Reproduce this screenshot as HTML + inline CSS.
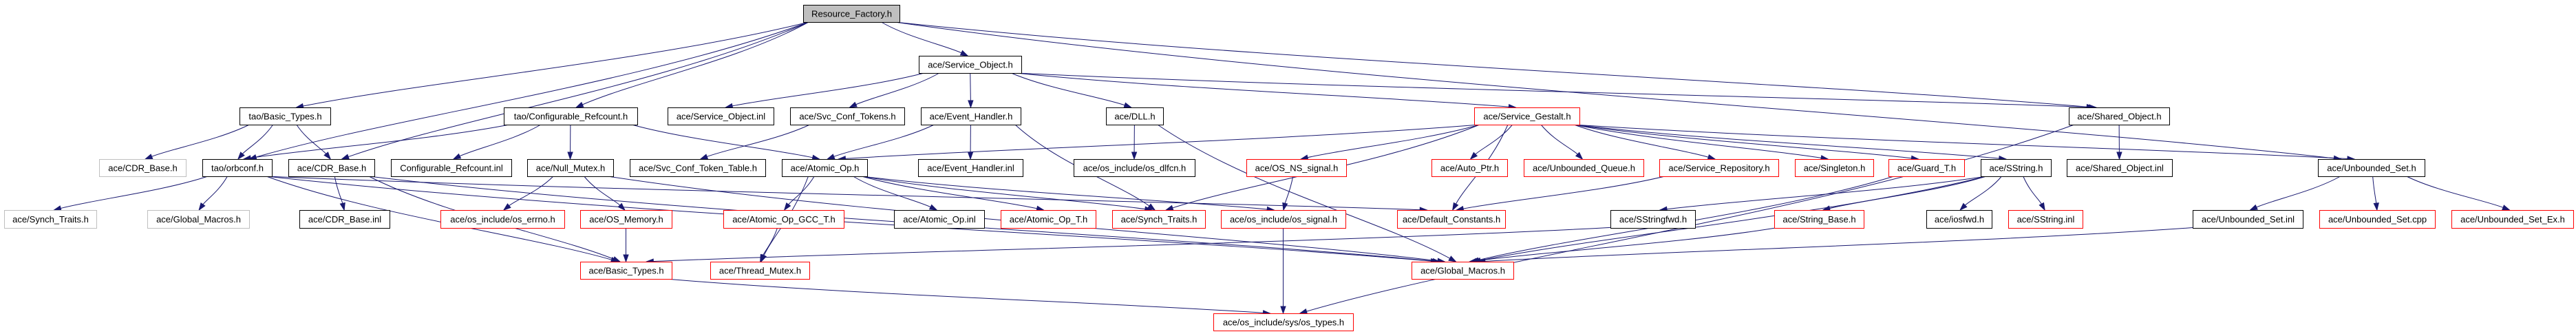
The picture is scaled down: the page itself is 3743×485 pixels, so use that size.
<!DOCTYPE html>
<html><head><meta charset="utf-8">
<style>
html,body{margin:0;padding:0;background:#fff;}
svg{display:block;}
text{font-family:"Liberation Sans",sans-serif;font-size:13px;fill:#000;}
</style></head>
<body>
<svg id="g" xmlns="http://www.w3.org/2000/svg" width="3743" height="485" viewBox="0 0 3743 485">
<rect x="0" y="0" width="3743" height="485" fill="#fff"/>
<g id="edges" fill="none" stroke="#191970" stroke-width="1"></g>
<g id="heads" fill="#191970" stroke="#191970" stroke-width="1"></g>
<g id="nodes" stroke-width="1">
<rect x="1167.5" y="7.5" width="140" height="25" fill="#bfbfbf" stroke="#000"/><text x="1237.5" y="24.5" text-anchor="middle" textLength="117" lengthAdjust="spacingAndGlyphs">Resource_Factory.h</text>
<rect x="1335.5" y="81.5" width="149" height="25" fill="#fff" stroke="#000"/><text x="1410" y="98.5" text-anchor="middle">ace/Service_Object.h</text>
<rect x="348.5" y="156.5" width="132" height="25" fill="#fff" stroke="#000"/><text x="414.5" y="173.5" text-anchor="middle">tao/Basic_Types.h</text>
<rect x="732.5" y="156.5" width="194" height="25" fill="#fff" stroke="#000"/><text x="829.5" y="173.5" text-anchor="middle">tao/Configurable_Refcount.h</text>
<rect x="970.5" y="156.5" width="154" height="25" fill="#fff" stroke="#000"/><text x="1047.5" y="173.5" text-anchor="middle">ace/Service_Object.inl</text>
<rect x="1148.5" y="156.5" width="166" height="25" fill="#fff" stroke="#000"/><text x="1231.5" y="173.5" text-anchor="middle">ace/Svc_Conf_Tokens.h</text>
<rect x="1338.5" y="156.5" width="145" height="25" fill="#fff" stroke="#000"/><text x="1411" y="173.5" text-anchor="middle">ace/Event_Handler.h</text>
<rect x="1607.5" y="156.5" width="83" height="25" fill="#fff" stroke="#000"/><text x="1649" y="173.5" text-anchor="middle">ace/DLL.h</text>
<rect x="2142.5" y="156.5" width="153" height="25" fill="#fff" stroke="#f00"/><text x="2219" y="173.5" text-anchor="middle">ace/Service_Gestalt.h</text>
<rect x="3006.5" y="156.5" width="146" height="25" fill="#fff" stroke="#000"/><text x="3079.5" y="173.5" text-anchor="middle">ace/Shared_Object.h</text>
<rect x="144.5" y="231.5" width="126" height="25" fill="#fff" stroke="#bfbfbf"/><text x="207.5" y="248.5" text-anchor="middle">ace/CDR_Base.h</text>
<rect x="294.5" y="231.5" width="101" height="25" fill="#fff" stroke="#000"/><text x="345" y="248.5" text-anchor="middle">tao/orbconf.h</text>
<rect x="419.5" y="231.5" width="125" height="25" fill="#fff" stroke="#000"/><text x="482" y="248.5" text-anchor="middle">ace/CDR_Base.h</text>
<rect x="568.5" y="231.5" width="175" height="25" fill="#fff" stroke="#000"/><text x="656" y="248.5" text-anchor="middle">Configurable_Refcount.inl</text>
<rect x="766.5" y="231.5" width="125" height="25" fill="#fff" stroke="#000"/><text x="829" y="248.5" text-anchor="middle">ace/Null_Mutex.h</text>
<rect x="915.5" y="231.5" width="197" height="25" fill="#fff" stroke="#000"/><text x="1014" y="248.5" text-anchor="middle">ace/Svc_Conf_Token_Table.h</text>
<rect x="1136.5" y="231.5" width="124" height="25" fill="#fff" stroke="#000"/><text x="1198.5" y="248.5" text-anchor="middle">ace/Atomic_Op.h</text>
<rect x="1334.5" y="231.5" width="152" height="25" fill="#fff" stroke="#000"/><text x="1410.5" y="248.5" text-anchor="middle">ace/Event_Handler.inl</text>
<rect x="1560.5" y="231.5" width="176" height="25" fill="#fff" stroke="#000"/><text x="1648.5" y="248.5" text-anchor="middle">ace/os_include/os_dlfcn.h</text>
<rect x="1811.5" y="231.5" width="145" height="25" fill="#fff" stroke="#f00"/><text x="1884" y="248.5" text-anchor="middle">ace/OS_NS_signal.h</text>
<rect x="2080.5" y="231.5" width="110" height="25" fill="#fff" stroke="#f00"/><text x="2135.5" y="248.5" text-anchor="middle">ace/Auto_Ptr.h</text>
<rect x="2214.5" y="231.5" width="174" height="25" fill="#fff" stroke="#f00"/><text x="2301.5" y="248.5" text-anchor="middle">ace/Unbounded_Queue.h</text>
<rect x="2411.5" y="231.5" width="173" height="25" fill="#fff" stroke="#f00"/><text x="2498" y="248.5" text-anchor="middle">ace/Service_Repository.h</text>
<rect x="2608.5" y="231.5" width="114" height="25" fill="#fff" stroke="#f00"/><text x="2665.5" y="248.5" text-anchor="middle">ace/Singleton.h</text>
<rect x="2744.5" y="231.5" width="110" height="25" fill="#fff" stroke="#f00"/><text x="2799.5" y="248.5" text-anchor="middle">ace/Guard_T.h</text>
<rect x="2878.5" y="231.5" width="102" height="25" fill="#fff" stroke="#000"/><text x="2929.5" y="248.5" text-anchor="middle">ace/SString.h</text>
<rect x="3003.5" y="231.5" width="153" height="25" fill="#fff" stroke="#000"/><text x="3080" y="248.5" text-anchor="middle">ace/Shared_Object.inl</text>
<rect x="3368.5" y="231.5" width="155" height="25" fill="#fff" stroke="#000"/><text x="3446" y="248.5" text-anchor="middle">ace/Unbounded_Set.h</text>
<rect x="6.5" y="305.5" width="134" height="26" fill="#fff" stroke="#bfbfbf"/><text x="73.5" y="323" text-anchor="middle">ace/Synch_Traits.h</text>
<rect x="214.5" y="305.5" width="148" height="26" fill="#fff" stroke="#bfbfbf"/><text x="288.5" y="323" text-anchor="middle">ace/Global_Macros.h</text>
<rect x="435.5" y="305.5" width="131" height="26" fill="#fff" stroke="#000"/><text x="501" y="323" text-anchor="middle">ace/CDR_Base.inl</text>
<rect x="640.5" y="305.5" width="180" height="26" fill="#fff" stroke="#f00"/><text x="730.5" y="323" text-anchor="middle">ace/os_include/os_errno.h</text>
<rect x="843.5" y="305.5" width="133" height="26" fill="#fff" stroke="#f00"/><text x="910" y="323" text-anchor="middle">ace/OS_Memory.h</text>
<rect x="1051.5" y="305.5" width="175" height="26" fill="#fff" stroke="#f00"/><text x="1139" y="323" text-anchor="middle">ace/Atomic_Op_GCC_T.h</text>
<rect x="1299.5" y="305.5" width="131" height="26" fill="#fff" stroke="#000"/><text x="1365" y="323" text-anchor="middle">ace/Atomic_Op.inl</text>
<rect x="1454.5" y="305.5" width="138" height="26" fill="#fff" stroke="#f00"/><text x="1523.5" y="323" text-anchor="middle">ace/Atomic_Op_T.h</text>
<rect x="1616.5" y="305.5" width="135" height="26" fill="#fff" stroke="#f00"/><text x="1684" y="323" text-anchor="middle">ace/Synch_Traits.h</text>
<rect x="1774.5" y="305.5" width="181" height="26" fill="#fff" stroke="#f00"/><text x="1865" y="323" text-anchor="middle">ace/os_include/os_signal.h</text>
<rect x="2030.5" y="305.5" width="157" height="26" fill="#fff" stroke="#f00"/><text x="2109" y="323" text-anchor="middle">ace/Default_Constants.h</text>
<rect x="2340.5" y="305.5" width="123" height="26" fill="#fff" stroke="#000"/><text x="2402" y="323" text-anchor="middle">ace/SStringfwd.h</text>
<rect x="2578.5" y="305.5" width="130" height="26" fill="#fff" stroke="#f00"/><text x="2643.5" y="323" text-anchor="middle">ace/String_Base.h</text>
<rect x="2799.5" y="305.5" width="95" height="26" fill="#fff" stroke="#000"/><text x="2847" y="323" text-anchor="middle">ace/iosfwd.h</text>
<rect x="2918.5" y="305.5" width="108" height="26" fill="#fff" stroke="#f00"/><text x="2972.5" y="323" text-anchor="middle">ace/SString.inl</text>
<rect x="3186.5" y="305.5" width="160" height="26" fill="#fff" stroke="#000"/><text x="3266.5" y="323" text-anchor="middle">ace/Unbounded_Set.inl</text>
<rect x="3370.5" y="305.5" width="168" height="26" fill="#fff" stroke="#f00"/><text x="3454.5" y="323" text-anchor="middle">ace/Unbounded_Set.cpp</text>
<rect x="3562.5" y="305.5" width="177" height="26" fill="#fff" stroke="#f00"/><text x="3651" y="323" text-anchor="middle">ace/Unbounded_Set_Ex.h</text>
<rect x="843.5" y="380.5" width="133" height="25" fill="#fff" stroke="#f00"/><text x="910" y="397.5" text-anchor="middle">ace/Basic_Types.h</text>
<rect x="1032.5" y="380.5" width="144" height="25" fill="#fff" stroke="#f00"/><text x="1104.5" y="397.5" text-anchor="middle">ace/Thread_Mutex.h</text>
<rect x="2051.5" y="380.5" width="148" height="25" fill="#fff" stroke="#f00"/><text x="2125.5" y="397.5" text-anchor="middle">ace/Global_Macros.h</text>
<rect x="1763.5" y="455.5" width="203" height="25" fill="#fff" stroke="#f00"/><text x="1865" y="472.5" text-anchor="middle">ace/os_include/sys/os_types.h</text>
</g>
</svg>
<script>
var N={RF:[1167,1308,0],SO:[1335,1484,1],TBT:[348,480,2],TCR:[732,926,2],SOI:[970,1124,2],SCT:[1148,1314,2],EH:[1338,1483,2],DLL:[1607,1690,2],SG:[2142,2295,2],SHO:[3006,3152,2],
CDRg:[144,270,3],ORB:[294,395,3],CDR:[419,544,3],CRI:[568,743,3],NM:[766,891,3],SCTT:[915,1112,3],AO:[1136,1260,3],EHI:[1334,1486,3],DLF:[1560,1736,3],NSS:[1811,1956,3],AP:[2080,2190,3],UQ:[2214,2388,3],SR:[2411,2584,3],SGL:[2608,2722,3],GT:[2744,2854,3],SS:[2878,2980,3],SHI:[3003,3156,3],US:[3368,3523,3],
STg:[6,140,4],GMg:[214,362,4],CDI:[435,566,4],ERR:[640,820,4],OSM:[843,976,4],GCC:[1051,1226,4],AOI:[1299,1430,4],AOT:[1454,1592,4],STr:[1616,1751,4],SIG:[1774,1955,4],DC:[2030,2187,4],SSF:[2340,2463,4],SB:[2578,2708,4],IOS:[2799,2894,4],SSI:[2918,3026,4],USI:[3186,3346,4],USC:[3370,3538,4],USE:[3562,3739,4],
BT:[843,976,5],TM:[1032,1176,5],GM:[2051,2199,5],OST:[1763,1966,6]};
var RY=[7,81,156,231,305,380,455];
var E=[["RF","TBT"],["RF","CDR"],["RF","TCR"],["RF","SO"],["RF","US"],["RF","SHO"],["RF","ORB"],
["SO","SOI"],["SO","SCT"],["SO","EH"],["SO","DLL"],["SO","SG"],["SO","SHO"],
["SCT","SCTT"],["EH","EHI"],["EH","AO"],["EH","STr"],["DLL","DLF"],["DLL","GM"],
["TBT","CDRg"],["TBT","ORB"],["TBT","CDR"],
["ORB","STg"],["ORB","GMg"],["ORB","BT"],["ORB","GM"],["ORB","DC"],
["CDR","CDI"],["CDR","BT"],["CDR","GM"],
["TCR","CRI"],["TCR","NM"],["TCR","AO"],["TCR","ORB"],
["NM","ERR"],["NM","OSM"],["NM","GM"],["OSM","BT"],
["AO","GCC"],["AO","AOI"],["AO","TM"],["AO","AOT"],["AO","STr"],["AO","SIG"],["GCC","TM"],
["SG","AO"],["SG","AP"],["SG","UQ"],["SG","SR"],["SG","SGL"],["SG","GT"],["SG","SS"],["SG","US"],["SG","NSS"],["SG","STr"],["SG","DC"],
["NSS","SIG"],["SIG","OST"],["SR","DC"],["GT","GM"],
["SS","SSF"],["SS","SB"],["SS","IOS"],["SS","SSI"],["SS","GM"],["SSF","BT"],["SB","GM"],
["SHO","SHI"],["SHO","OST"],["US","USI"],["US","USC"],["US","USE"],["USI","GM"],["BT","OST"]];
var eg=document.getElementById("edges"),hg=document.getElementById("heads"),NS="http://www.w3.org/2000/svg";
function cl(v,a,b){return Math.max(a,Math.min(b,v));}
function head(x,y,dx,dy){var l=Math.hypot(dx,dy)||1;dx/=l;dy/=l;var bx=x-dx*10,by=y-dy*10,px=-dy*3.5,py=dx*3.5;
var p=document.createElementNS(NS,"polygon");p.setAttribute("points",x+","+y+" "+(bx+px)+","+(by+py)+" "+(bx-px)+","+(by-py));hg.appendChild(p);}
function add(d,x,y,dx,dy){var p=document.createElementNS(NS,"path");p.setAttribute("d",d);eg.appendChild(p);head(x,y,dx,dy);}
E.forEach(function(e){var s=N[e[0]],t=N[e[1]];var sc=(s[0]+s[1])/2,tc=(t[0]+t[1])/2;
var sTop=RY[s[2]],sBot=sTop+25,tTop=RY[t[2]],tBot=tTop+25;
if(t[2]>s[2]){var sx=cl(sc+(tc-sc)*0.25,s[0]+8,s[1]-8),ex=cl(tc-(tc-sc)*0.02,t[0]+8,t[1]-8);
var dy=tTop-sBot,ey=tTop;
var c1x=sx+(ex-sx)*0.3,c1y=sBot+dy*0.45,c2x=sx+(ex-sx)*0.75,c2y=ey-dy*0.3;
var dx=ex-c2x,ddy=ey-c2y,l=Math.hypot(dx,ddy)||1;
var px=ex-dx/l*9,py=ey-ddy/l*9;
add("M"+sx+","+sBot+" C"+c1x+","+c1y+" "+c2x+","+c2y+" "+px+","+py,ex,ey,dx,ddy);}
else if(t[2]==s[2]){var right=tc>sc;var sx=right?s[1]:s[0],tx=right?t[0]:t[1],y=sTop+12;
add("M"+sx+","+y+" C"+((sx+tx)/2)+","+(y-25)+" "+((sx+tx)/2)+","+(y-25)+" "+(right?tx-9:tx+9)+","+y,tx,y,right?1:-1,0.3);}
else{var tx=tc+15;add("M"+(sc+10)+","+sTop+" C"+(sc+10)+","+(sTop-25)+" "+tx+","+(tBot+25)+" "+tx+","+(tBot+9),tx,tBot,0,-1);}
});
</script>
</body></html>
